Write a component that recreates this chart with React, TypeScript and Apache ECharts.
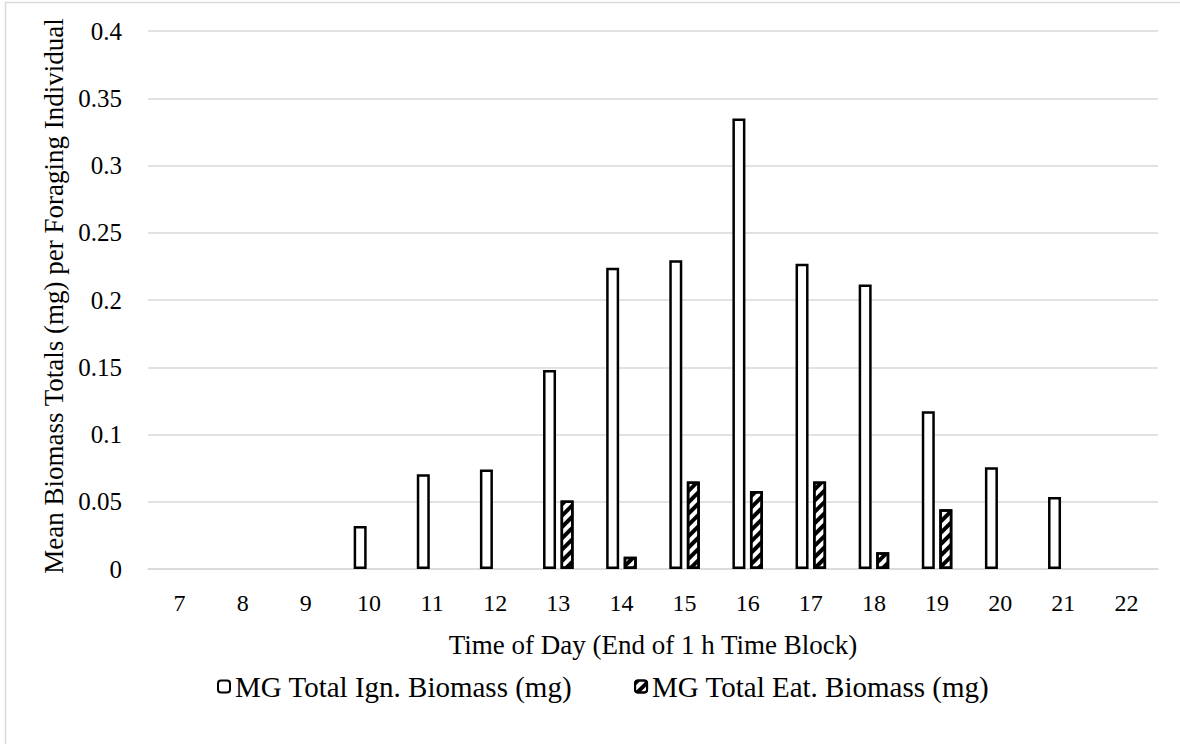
import React, { useEffect, useRef } from "react";
import * as echarts from "echarts";

const hours = ["7", "8", "9", "10", "11", "12", "13", "14", "15", "16", "17", "18", "19", "20", "21", "22"];
const ignBiomass = [0, 0, 0, 0.032, 0.0705, 0.074, 0.148, 0.224, 0.2295, 0.335, 0.227, 0.2115, 0.1172, 0.0757, 0.0535, 0];
const eatBiomass = [0, 0, 0, 0, 0, 0, 0.051, 0.0092, 0.065, 0.058, 0.065, 0.0125, 0.0445, 0, 0, 0];
const yTicks = [0, 0.05, 0.1, 0.15, 0.2, 0.25, 0.3, 0.35, 0.4];

const seriesNames = ["MG Total Ign. Biomass (mg)", "MG Total Eat. Biomass (mg)"];
const FONT = "'Liberation Serif', 'Times New Roman', serif";

export default function App() {
  const ref = useRef<HTMLDivElement>(null);
  useEffect(() => {
    document.body.style.margin = "0";
    const chart = echarts.init(ref.current!, null, { renderer: "svg" });
    const hide = (v: number) => (v === 0 ? "-" : v);
    chart.setOption({
      animation: false,
      backgroundColor: "#ffffff",
      textStyle: { fontFamily: FONT, color: "#000" },
      graphic: [
        {
          type: "rect",
          shape: { x: 5.5, y: 2.5, width: 1200, height: 800 },
          style: { fill: "none", stroke: "#d9d9d9", lineWidth: 1.5 },
          silent: true,
        },
      ],
      grid: { left: 148, right: 22, top: 31, bottom: 175, containLabel: false },
      legend: {
        top: 667,
        left: 212,
        itemWidth: 12,
        itemHeight: 12,
        itemGap: 62,
        textStyle: { fontFamily: FONT, fontSize: 29, color: "#000" },
        data: seriesNames,
      },
      xAxis: {
        type: "category",
        data: hours,
        name: "Time of Day (End of 1 h Time Block)",
        nameLocation: "middle",
        nameGap: 62,
        nameTextStyle: { fontFamily: FONT, fontSize: 27, color: "#000" },
        axisLine: { lineStyle: { color: "#d9d9d9", width: 1.5 } },
        axisTick: { show: false },
        axisLabel: { fontFamily: FONT, fontSize: 24, color: "#000", margin: 22 },
      },
      yAxis: {
        type: "value",
        min: 0,
        max: 0.4,
        interval: 0.05,
        name: "Mean Biomass Totals (mg) per Foraging Individual",
        nameLocation: "middle",
        nameGap: 72,
        nameTextStyle: { fontFamily: FONT, fontSize: 27, color: "#000", padding: [0, 0, 0, 8] },
        axisLine: { show: false },
        axisTick: { show: false },
        axisLabel: {
          fontFamily: FONT,
          fontSize: 25,
          color: "#000",
          margin: 26,
          formatter: (v: number) => {
            const t = yTicks.find((x) => Math.abs(x - v) < 1e-9);
            return String(t !== undefined ? Number(t.toFixed(2)) : v);
          },
        },
        splitLine: { lineStyle: { color: "#d9d9d9", width: 1.5 } },
      },
      series: [
        {
          name: seriesNames[0],
          type: "bar",
          data: ignBiomass.map(hide),
          barWidth: 13,
          barGap: "35%",
          itemStyle: { color: "#ffffff", borderColor: "#000", borderWidth: 2.5 },
        },
        {
          name: seriesNames[1],
          type: "bar",
          data: eatBiomass.map(hide),
          barWidth: 13,
          itemStyle: {
            color: "#ffffff",
            borderColor: "#000",
            borderWidth: 2.5,
            decal: {
              symbol: "rect",
              symbolSize: 1,
              color: "#000",
              backgroundColor: "#fff",
              dashArrayX: [1, 0],
              dashArrayY: [4, 4],
              rotation: -Math.PI / 4,
            },
          },
        },
      ],
    });
    return () => chart.dispose();
  }, []);
  return <div ref={ref} style={{ width: 1180, height: 744 }} />;
}
